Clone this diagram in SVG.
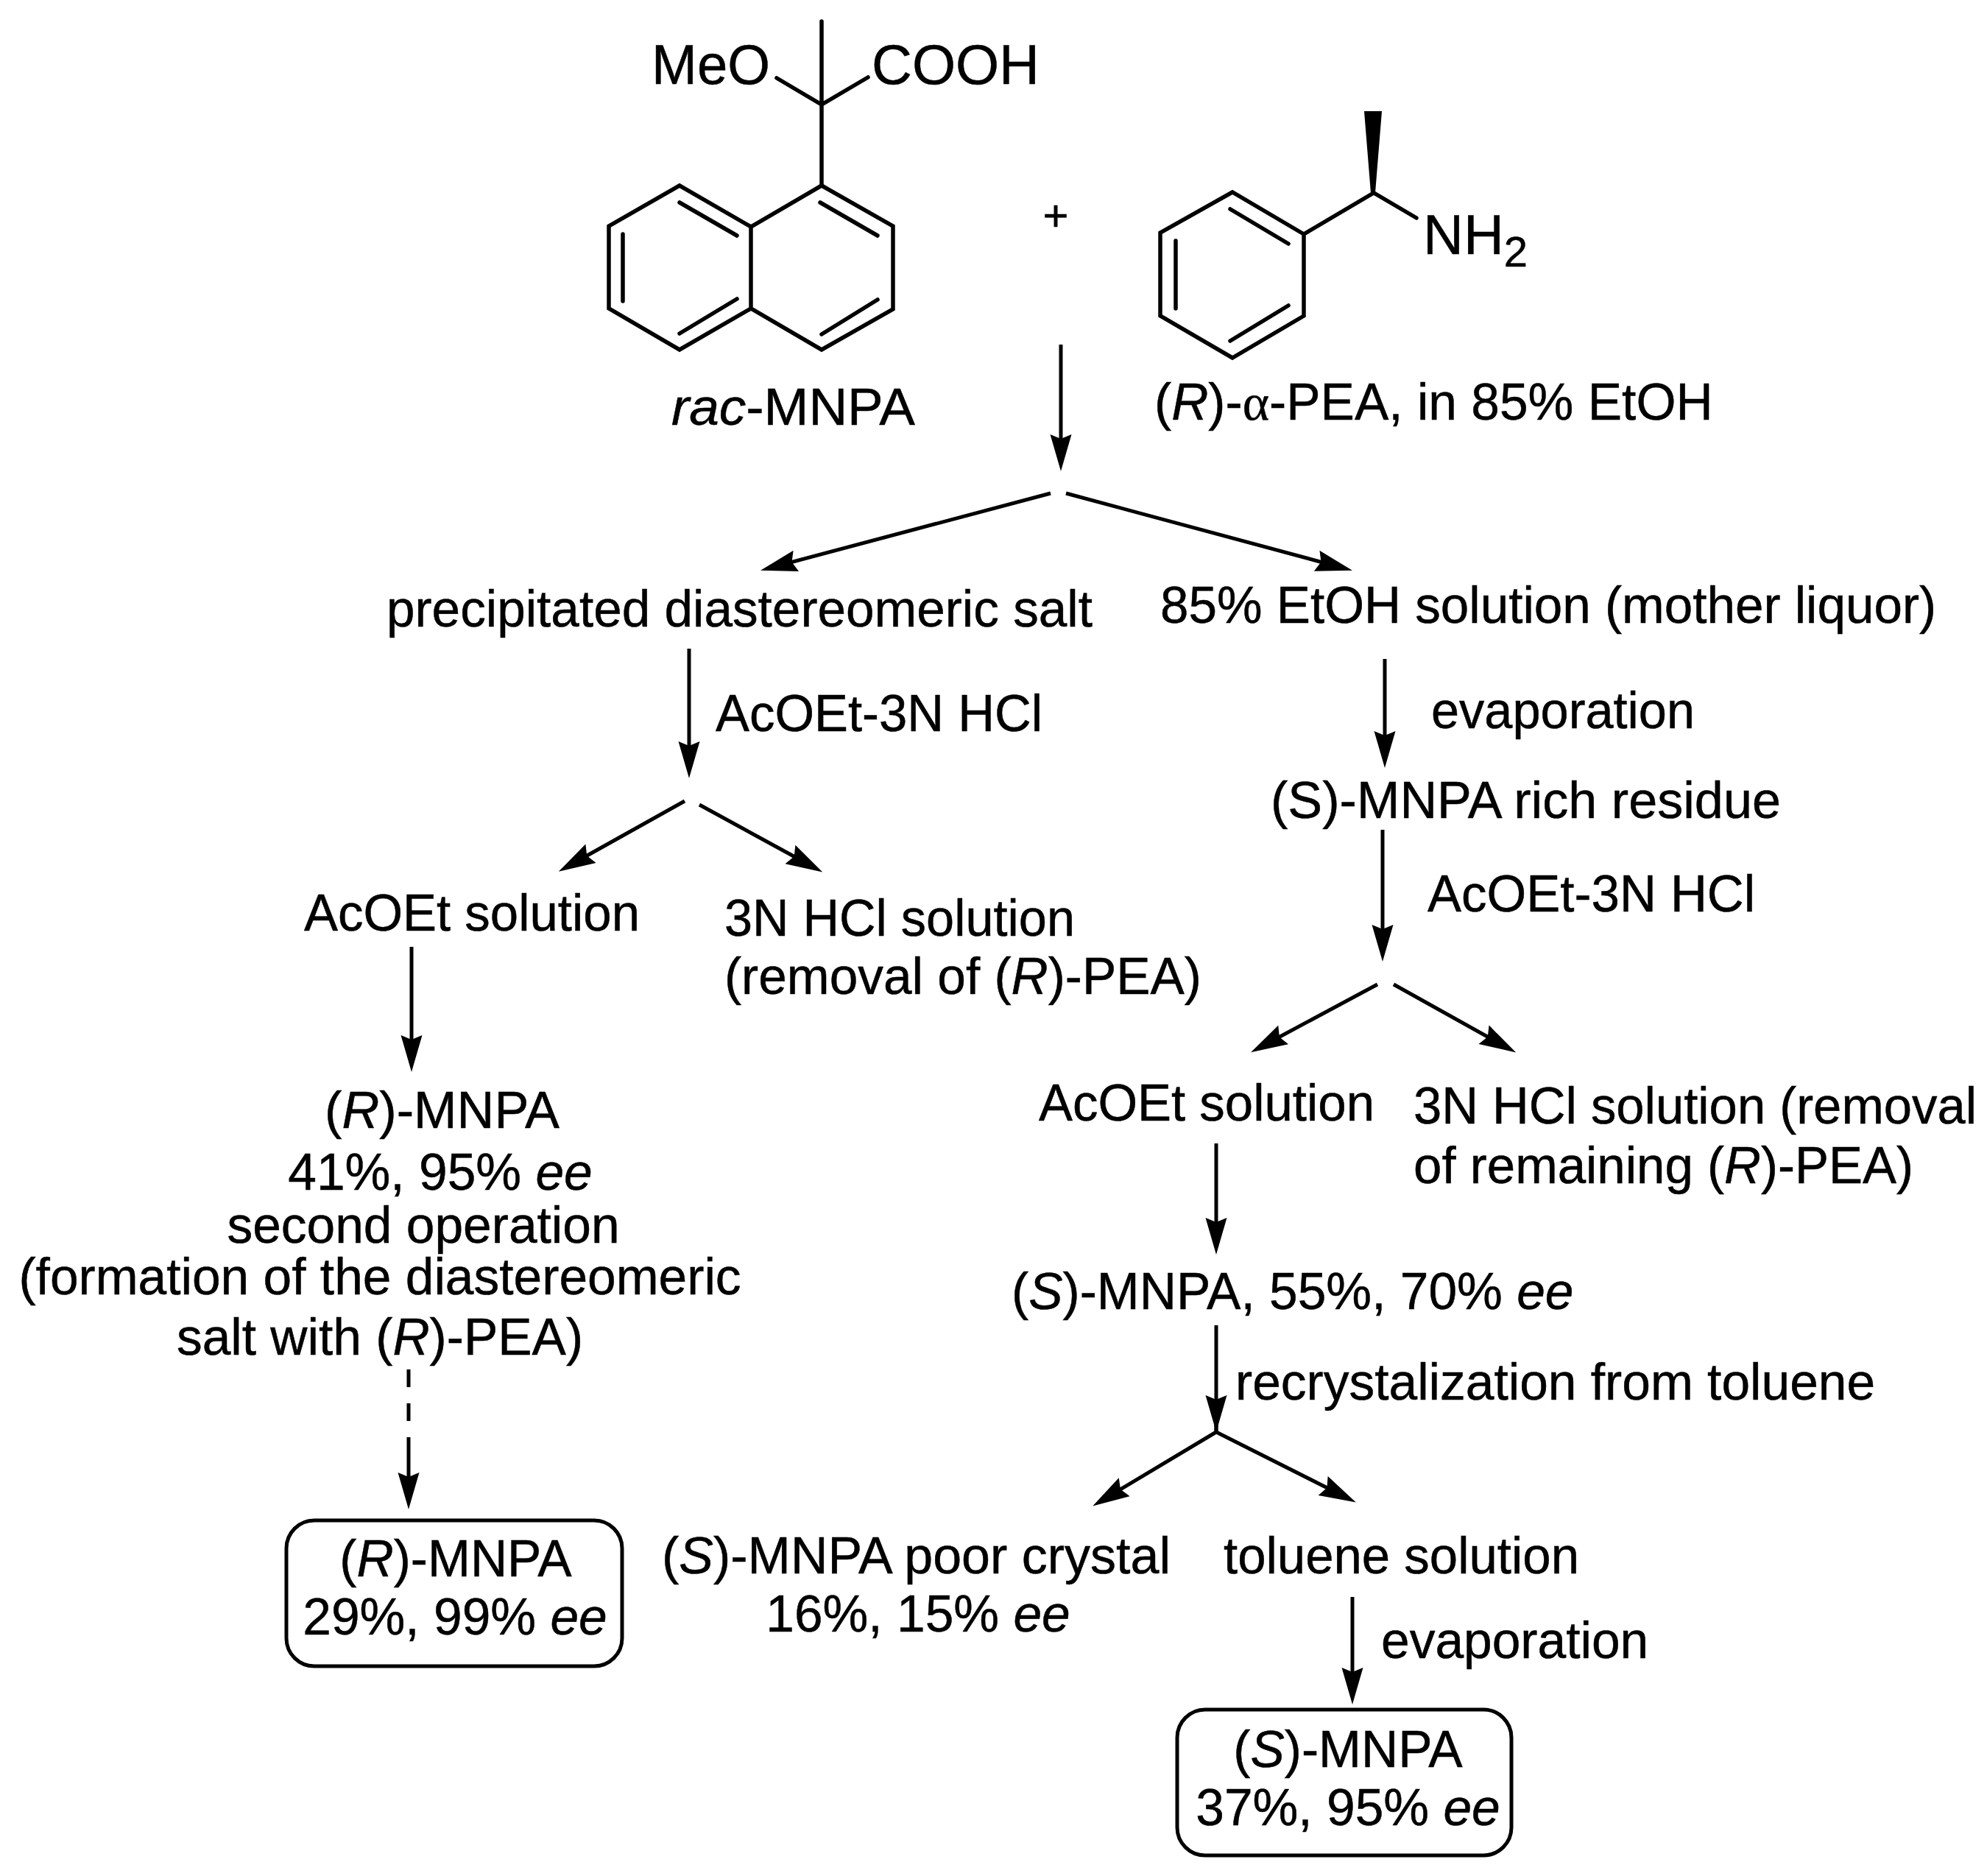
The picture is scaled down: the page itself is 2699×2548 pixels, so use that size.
<svg xmlns="http://www.w3.org/2000/svg" width="2699" height="2548" viewBox="0 0 2699 2548">
<style>
text{font-family:"Liberation Sans",Arial,sans-serif;font-size:69.500px;fill:#000;stroke:#000;stroke-width:.5px}
.l{font-size:76px}
.m{text-anchor:middle}
.i{font-style:italic}
.s{font-family:"Liberation Serif",serif}
.b{fill:none;stroke:#000;stroke-width:5.500;stroke-linecap:round;stroke-linejoin:miter}
.a{fill:none;stroke:#000;stroke-width:5;marker-end:url(#h)}
.d{fill:none;stroke:#000;stroke-width:5}
.box{fill:#fff;stroke:#000;stroke-width:5}
</style>
<defs>
<marker id="h" markerUnits="userSpaceOnUse" markerWidth="60" markerHeight="40" viewBox="0 -20 60 40" refX="20" refY="0" orient="auto" overflow="visible">
<path d="M0,-14.5L50,0L0,14.5L6,0Z" fill="#000"/>
</marker>
</defs>
<rect width="2699" height="2548" fill="#fff"/>
<g id="rac-MNPA">
<path class="b" d="M1116,29V252M1055,106L1116,142L1179,105"/>
<path class="b" d="M1116,252L1213,307V420L1116,475L1020,419V308L1116,252M1020,308L923,252L827,307V419L923,475L1020,419"/>
<path class="b" d="M1114,275L1192,320M1192,407L1116,454M923,275L1001,320M1001,406L923,453M846,318V409"/>
<text class="l" x="885" y="114" textLength="161" lengthAdjust="spacingAndGlyphs">MeO</text>
<text class="l" x="1184" y="114">COOH</text>
<text x="912" y="577" textLength="331" lengthAdjust="spacingAndGlyphs"><tspan class="i">rac</tspan>-MNPA</text>
</g>
<g id="plus"><text class="m" x="1434" y="313" style="font-size:60px">+</text></g>
<g id="R-PEA">
<path class="b" d="M1771,318L1674,261L1576,316V429L1674,486L1771,429V318L1866,262L1924,296"/>
<path class="b" d="M1671,284L1750,331M1750,415L1671,463M1597,327V419"/>
<path d="M1853,151H1877L1868,262H1862Z" fill="#000"/>
<text class="l" x="1933" y="345">NH<tspan dy="17" style="font-size:58px">2</tspan></text>
<text x="1568" y="570">(<tspan class="i">R</tspan>)-<tspan class="s">α</tspan>-PEA, in 85% EtOH</text>
</g>
<g id="connectors">
<path class="a" d="M1441,468V610"/>
<path class="a" d="M1427,670L1062,767"/>
<path class="a" d="M1448,670L1808,767"/>
<path class="a" d="M936,881V1027"/>
<path class="a" d="M930,1088L785,1169"/>
<path class="a" d="M950,1093L1091,1170"/>
<path class="a" d="M559,1286V1426"/>
<path class="d" d="M555,1860V1884M555,1906V1930"/>
<path class="a" d="M555,1952V2020"/>
<path class="a" d="M1881,895V1013"/>
<path class="a" d="M1878,1127V1276"/>
<path class="a" d="M1871,1337L1725.500,1415"/>
<path class="a" d="M1893,1337L2033,1415"/>
<path class="a" d="M1652,1553V1674"/>
<path class="a" d="M1652,1800V1915"/>
<path class="b" d="M1652,1915V1945"/>
<path class="a" d="M1652,1945L1510,2030"/>
<path class="a" d="M1652,1945L1815,2027"/>
<path class="a" d="M1837,2169V2285"/>
</g>
<g id="salt"><text x="525" y="851" textLength="959" lengthAdjust="spacingAndGlyphs">precipitated diastereomeric salt</text></g>
<g id="mother-liquor"><text x="1576" y="846" textLength="1054" lengthAdjust="spacingAndGlyphs">85% EtOH solution (mother liquor)</text></g>
<g id="l1"><text x="972" y="993" textLength="444" lengthAdjust="spacingAndGlyphs">AcOEt-3N HCl</text></g>
<g id="l2"><text x="1944" y="989" textLength="358" lengthAdjust="spacingAndGlyphs">evaporation</text></g>
<g id="residue"><text x="1726" y="1111" textLength="693" lengthAdjust="spacingAndGlyphs">(S)-MNPA rich residue</text></g>
<g id="l3"><text x="1939" y="1238" textLength="445" lengthAdjust="spacingAndGlyphs">AcOEt-3N HCl</text></g>
<g id="acoet-left"><text x="413" y="1264" textLength="456" lengthAdjust="spacingAndGlyphs">AcOEt solution</text></g>
<g id="hcl-left"><text x="984" y="1271" textLength="476" lengthAdjust="spacingAndGlyphs">3N HCl solution</text><text x="984" y="1350" textLength="648" lengthAdjust="spacingAndGlyphs">(removal of (<tspan class="i">R</tspan>)-PEA)</text></g>
<g id="r-mnpa-mid">
<text x="441" y="1532" textLength="319" lengthAdjust="spacingAndGlyphs">(<tspan class="i">R</tspan>)-MNPA</text>
<text class="m" x="598" y="1616">41%, 95% <tspan class="i">ee</tspan></text>
<text class="m" x="575" y="1688">second operation</text>
<text class="m" x="516" y="1758">(formation of the diastereomeric</text>
<text class="m" x="516" y="1840">salt with (<tspan class="i">R</tspan>)-PEA)</text>
</g>
<g id="r-mnpa-final">
<rect class="box" x="389" y="2065" width="456" height="198" rx="38"/>
<text class="m" x="619" y="2141">(<tspan class="i">R</tspan>)-MNPA</text>
<text class="m" x="618" y="2220">29%, 99% <tspan class="i">ee</tspan></text>
</g>
<g id="acoet-right"><text x="1411" y="1522" textLength="456" lengthAdjust="spacingAndGlyphs">AcOEt solution</text></g>
<g id="hcl-right"><text x="1920" y="1526" textLength="765" lengthAdjust="spacingAndGlyphs">3N HCl solution (removal</text><text x="1920" y="1607" textLength="679" lengthAdjust="spacingAndGlyphs">of remaining (<tspan class="i">R</tspan>)-PEA)</text></g>
<g id="s-mnpa-mid"><text x="1374" y="1778">(<tspan class="i">S</tspan>)-MNPA, 55%, 70% <tspan class="i">ee</tspan></text></g>
<g id="l4"><text x="1678" y="1901">recrystalization from toluene</text></g>
<g id="poor"><text x="899" y="2137" textLength="691" lengthAdjust="spacingAndGlyphs">(<tspan class="i">S</tspan>)-MNPA poor crystal</text><text class="m" x="1247" y="2216">16%, 15% <tspan class="i">ee</tspan></text></g>
<g id="toluene"><text x="1662" y="2137" textLength="483" lengthAdjust="spacingAndGlyphs">toluene solution</text></g>
<g id="l5"><text x="1876" y="2252">evaporation</text></g>
<g id="s-mnpa-final">
<rect class="box" x="1599" y="2322" width="454" height="198" rx="38"/>
<text class="m" x="1831" y="2400">(<tspan class="i">S</tspan>)-MNPA</text>
<text class="m" x="1831" y="2479">37%, 95% <tspan class="i">ee</tspan></text>
</g>
</svg>
